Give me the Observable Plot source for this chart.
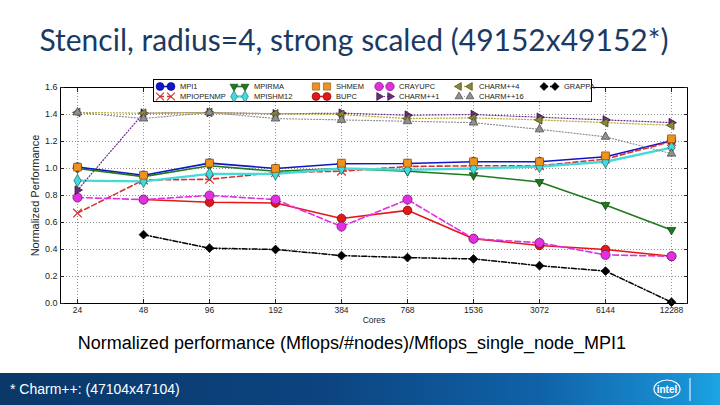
<!DOCTYPE html>
<html><head><meta charset="utf-8">
<script src="https://cdn.jsdelivr.net/npm/d3@7"></script>
<script src="https://cdn.jsdelivr.net/npm/@observablehq/plot@0.6"></script>
<style>
html,body{margin:0;padding:0}
body{width:720px;height:405px;overflow:hidden;background:#fff;position:relative;font-family:"Liberation Sans",Arial,sans-serif}
#title{position:absolute;left:-6px;top:21px;width:720px;text-align:center;font-family:Lato,"Open Sans",sans-serif;font-size:30px;color:#1b3a63;white-space:nowrap}
#chart{position:absolute;left:0;top:75px}
#legend{position:absolute;left:153px;top:79px;width:439px;height:23px;border:1px solid #000;background:#fff;box-sizing:border-box}
.li{position:absolute;height:11px;display:flex;align-items:center;font-size:7.5px;color:#222;white-space:nowrap;font-family:"Liberation Sans Narrow","Liberation Sans",sans-serif}
.li svg{margin-right:4px}
#subtitle{position:absolute;top:333px;left:-8px;width:720px;text-align:center;font-size:18px;color:#000;white-space:nowrap}
#footer{position:absolute;top:373px;left:0;width:720px;height:32px;background:linear-gradient(90deg,#0a3868 0%,#0c4480 45%,#1062a8 75%,#1990d4 95%,#1aa6e4 100%)}
#foottext{position:absolute;left:10px;top:8px;font-size:14px;color:#fff;white-space:nowrap}
</style>
</head><body>
<div id="title">Stencil, radius=4, strong scaled (49152x49152*)</div>
<div id="chart"></div>
<div id="legend"></div>
<div id="subtitle">Normalized performance (Mflops/#nodes)/Mflops_single_node_MPI1</div>
<div id="footer"><div id="foottext">* Charm++: (47104x47104)</div>
<svg width="720" height="32" style="position:absolute;left:0;top:0">
<ellipse cx="667" cy="16" rx="13" ry="9" fill="none" stroke="#fff" stroke-width="1.2"/>
<text x="667" y="19.5" text-anchor="middle" fill="#fff" font-size="10" font-weight="bold" font-family="Liberation Sans">intel</text>
<line x1="690" y1="5" x2="690" y2="28" stroke="#fff" stroke-width="1"/>
</svg></div>
<script>
const cores = ["24","48","96","192","384","768","1536","3072","6144","12288"];
const seriesNames = ["MPI1","MPIOPENMP","MPIRMA","MPISHM12","SHMEM","BUPC","CRAYUPC","CHARM++1","CHARM++4","CHARM++16","GRAPPA"];
const mpi1      = [1.01,0.95,1.04,1.00,1.035,1.037,1.05,1.05,1.087,1.205];
const mpiopenmp = [0.67,0.915,0.92,0.97,0.98,1.015,1.02,1.02,1.07,1.20];
const mpirma    = [1.00,0.94,1.02,0.98,1.00,0.98,0.95,0.90,0.73,0.545];
const mpishm12  = [0.91,0.905,0.96,0.96,1.00,0.99,1.00,1.015,1.05,1.155];
const shmem     = [1.01,0.95,1.04,1.00,1.04,1.04,1.05,1.05,1.094,1.22];
const bupc      = [null,0.77,0.75,0.745,0.63,0.69,0.48,0.43,0.40,0.35];
const crayupc   = [0.785,0.77,0.80,0.77,0.57,0.77,0.48,0.45,0.36,0.35];
const charm1    = [0.84,1.41,1.415,1.405,1.41,1.395,1.40,1.38,1.36,1.34];
const charm4    = [1.415,1.41,1.415,1.405,1.40,1.37,1.375,1.36,1.34,1.32];
const charm16   = [1.415,1.37,1.415,1.37,1.36,1.35,1.34,1.29,1.235,1.11];
const grappa    = [null,0.51,0.41,0.40,0.355,0.34,0.33,0.28,0.24,0.01];
const yTicks = [0,0.2,0.4,0.6,0.8,1.0,1.2,1.4,1.6];

const values = [mpi1,mpiopenmp,mpirma,mpishm12,shmem,bupc,crayupc,charm1,charm4,charm16,grappa];
const styles = [
  {color:"#1414c8", edge:"#000060", symbol:"circle", rotate:0, r:4.3, dash:null, width:1.6, line:true},
  {color:"#d83030", edge:"#d83030", symbol:"times", rotate:0, r:4, dash:"5,3", width:1.6, line:true, open:true},
  {color:"#1e7a1e", edge:"#0a3a0a", symbol:"triangle", rotate:180, r:3.2, dash:null, width:1.6, line:true},
  {color:"#44dada", edge:"#106060", symbol:"diamond", rotate:0, r:3.8, dash:null, width:2.4, line:true},
  {color:"#f0921e", edge:"#8a5010", symbol:"square", rotate:0, r:4.4, dash:null, width:0, line:false},
  {color:"#e41818", edge:"#700000", symbol:"circle", rotate:0, r:4.3, dash:null, width:1.6, line:true},
  {color:"#e030e0", edge:"#701070", symbol:"circle", rotate:0, r:4.6, dash:"6,3", width:1.6, line:true},
  {color:"#6a2a84", edge:"#30103a", symbol:"triangle", rotate:90, r:3.2, dash:"1,2", width:1.2, line:true},
  {color:"#8a8a34", edge:"#3a3a10", symbol:"triangle", rotate:-90, r:3.2, dash:"1,2", width:1.3, line:true, lineColor:"#b8b040"},
  {color:"#909090", edge:"#404040", symbol:"triangle", rotate:0, r:3.2, dash:"1,2", width:1.2, line:true},
  {color:"#000000", edge:"#000000", symbol:"square", rotate:45, r:3.5, dash:"5,2,1,2", width:1.5, line:true}
];

const marks = [
  Plot.gridX({stroke:"#888", strokeOpacity:0.9, strokeDasharray:"1,2"}),
  Plot.gridY(yTicks, {stroke:"#888", strokeOpacity:0.9, strokeDasharray:"1,2"}),
];
values.forEach((vals, i) => {
  const st = styles[i];
  const data = cores.map((c, j) => ({cores: c, v: vals[j]}));
  if (st.line) marks.push(Plot.line(data, {x:"cores", y:"v", stroke: st.lineColor || st.color, strokeWidth: st.width, strokeDasharray: st.dash}));
  const pts = data.filter(d => d.v != null);
  if (st.open) marks.push(Plot.dot(pts, {x:"cores", y:"v", symbol: st.symbol, r: st.r, stroke: st.color, strokeWidth:1.2}));
  else marks.push(Plot.dot(pts, {x:"cores", y:"v", symbol: st.symbol, rotate: st.rotate, r: st.r, fill: st.color, stroke: st.edge, strokeWidth:0.7}));
});
marks.push(Plot.frame({stroke:"#000", strokeWidth:1}));
marks.push(Plot.axisY(yTicks, {anchor:"left", tickSize:-4, tickPadding:7, tickFormat: d3.format(".1f"), label:null, fontSize:9}));
marks.push(Plot.axisY(yTicks, {anchor:"left", tickSize:0, tickFormat: () => "", label:"Normalized Performance", labelAnchor:"center", labelArrow:"none", labelOffset:29, fontSize:11}));
marks.push(Plot.axisY(yTicks, {anchor:"right", tickSize:-4, tickFormat: () => "", label:null}));
marks.push(Plot.axisX({anchor:"bottom", tickSize:-4, tickPadding:7, label:"Cores", labelAnchor:"center", labelArrow:"none", labelOffset:19, fontSize:8.5}));
marks.push(Plot.axisX({anchor:"top", tickSize:-4, tickFormat: () => "", label:null}));

const chart = Plot.plot({
  width: 720, height: 255,
  marginLeft: 60, marginRight: 33, marginTop: 12, marginBottom: 27,
  style: {fontFamily:"Liberation Sans, Arial, sans-serif", fontSize:"9.5px", color:"#222", background:"transparent"},
  x: {type:"point", domain: cores, padding: 0.2},
  y: {domain:[0,1.6]},
  marks
});
document.getElementById("chart").appendChild(chart);

// Legend (6 columns, column-major, 2 rows)
const legendPos = [[0,0],[0,1],[1,0],[1,1],[2,0],[2,1],[3,0],[3,1],[4,0],[4,1],[5,0]];
const colX = [0, 74, 156, 219, 299, 384];
const leg = d3.select("#legend");
const symMap = {circle:d3.symbolCircle, times:d3.symbolTimes, triangle:d3.symbolTriangle, diamond:d3.symbolDiamond, square:d3.symbolSquare};
seriesNames.forEach((name, i) => {
  const st = styles[i];
  const [c, r] = legendPos[i];
  const item = leg.append("div").attr("class","li").style("left", (colX[c]+1)+"px").style("top", (r ? 10.5 : 0.5)+"px");
  const svg = item.append("svg").attr("width", 21).attr("height", 11);
  if (st.line) svg.append("line").attr("x1",4).attr("x2",17).attr("y1",5.5).attr("y2",5.5)
     .attr("stroke", st.lineColor || st.color).attr("stroke-width", Math.max(st.width,1.2)).attr("stroke-dasharray", st.dash);
  const size = Math.PI * st.r * st.r * 0.85;
  [5, 16].forEach(x => {
    const p = svg.append("path").attr("d", d3.symbol(symMap[st.symbol], size)())
      .attr("transform", `translate(${x},5.5) rotate(${st.rotate||0})`);
    if (st.open) p.attr("fill","none").attr("stroke", st.color).attr("stroke-width",1.1);
    else p.attr("fill", st.color).attr("stroke", st.edge).attr("stroke-width",0.6);
  });
  item.append("span").text(name);
});
</script>
</body></html>
